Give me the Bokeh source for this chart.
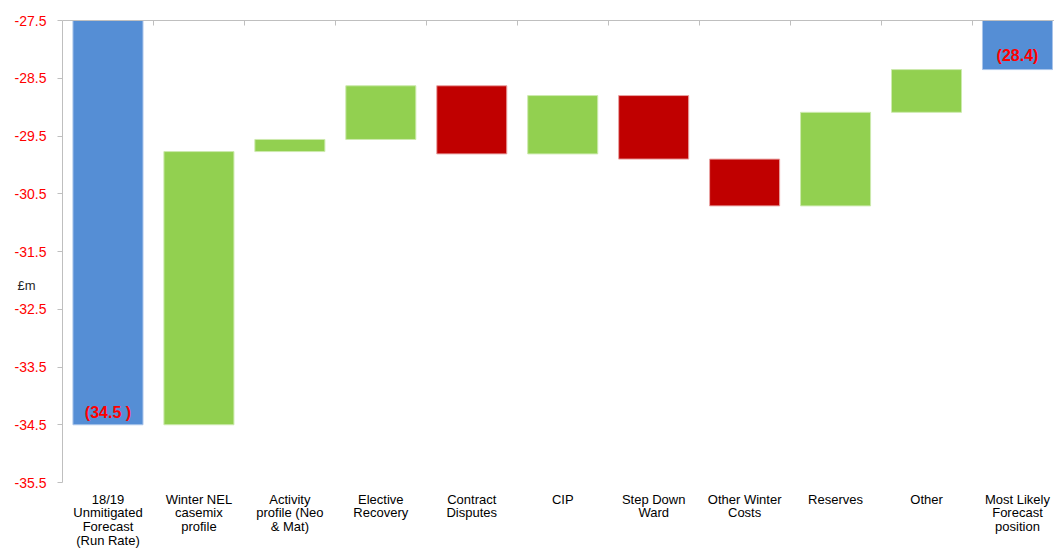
from bokeh.plotting import figure
from bokeh.models import (FixedTicker, LinearAxis, Range1d, ColumnDataSource)
from bokeh.core.properties import value
from bokeh.embed import file_html
from bokeh.resources import INLINE

# ---- data ----
categories = ["18/19\nUnmitigated\nForecast\n(Run Rate)", "Winter NEL\ncasemix\nprofile",
              "Activity\nprofile (Neo\n& Mat)", "Elective\nRecovery", "Contract\nDisputes",
              "CIP", "Step Down\nWard", "Other Winter\nCosts", "Reserves", "Other",
              "Most Likely\nForecast\nposition"]
start_value = -34.5
deltas = [4.73, 0.21, 0.93, -1.18, 1.01, -1.10, -0.81, 1.62, 0.74]
end_value = -28.35
start_label = "(34.5 )"
end_label = "(28.4)"
y_ticks = [-27.5, -28.5, -29.5, -30.5, -31.5, -32.5, -33.5, -34.5, -35.5]
y_unit = "£m"

BLUE = "#558ed5"
GREEN = "#92d050"
RED = "#c00000"
FONT = "Liberation Sans"

# ---- compute waterfall ----
xs, bottoms, tops, fills, lines = [], [], [], [], []
xs.append(1); bottoms.append(start_value); tops.append(0.0); fills.append(BLUE); lines.append("#a9c4ea")
running = start_value
for i, d in enumerate(deltas):
    new = running + d
    xs.append(i + 2)
    bottoms.append(min(running, new)); tops.append(max(running, new))
    if d >= 0:
        fills.append(GREEN); lines.append("#cdeaae")
    else:
        fills.append(RED); lines.append("#e9a3a3")
    running = new
xs.append(len(categories)); bottoms.append(end_value); tops.append(0.0); fills.append(BLUE); lines.append("#a9c4ea")

src = ColumnDataSource(dict(x=xs, bottom=bottoms, top=tops, fill=fills, line=lines))

# ---- layout geometry ----
W, H = 1054, 549
left, top_b = 62, 20
frame_w = W - left
frame_h = H - top_b
px_per_x = 90.95
px_per_y = 57.75
y_max = max(y_ticks)
y_min_axis = min(y_ticks)
x_end = 0.5 + frame_w / px_per_x
y_start = y_max - frame_h / px_per_y   # frame runs to bottom of canvas; labels drawn beneath the axis

p = figure(width=W, height=H, output_backend="svg", toolbar_location=None,
           x_range=Range1d(0.5, x_end), y_range=Range1d(y_start, y_max),
           min_border_left=left, min_border_top=top_b, min_border_bottom=0,
           min_border_right=0, x_axis_location=None, y_axis_location=None)
p.outline_line_color = None
p.grid.visible = False
p.background_fill_color = "white"
p.border_fill_color = "white"

p.vbar(x="x", bottom="bottom", top="top", width=0.77, fill_color="fill",
       line_color="line", line_width=1, source=src)

# left axis
ya = LinearAxis(ticker=FixedTicker(ticks=y_ticks), bounds=(y_min_axis, y_max))
ya.major_label_overrides = {t: f"{t}" for t in y_ticks}
ya.major_label_text_color = "#ff0000"
ya.major_label_text_font = FONT
ya.major_label_text_font_size = "14px"
ya.axis_line_color = "#bfbfbf"
ya.major_tick_line_color = "#bfbfbf"
ya.major_tick_out = 5
ya.major_tick_in = 0
ya.minor_tick_line_color = None
ya.major_label_standoff = 11
ya.axis_label = y_unit
ya.axis_label_text_font = FONT
ya.axis_label_text_font_size = "13px"
ya.axis_label_text_font_style = "normal"
ya.axis_label_text_color = "#262626"
ya.axis_label_standoff = -24
try:
    ya.axis_label_orientation = "horizontal"
except AttributeError:
    pass
p.add_layout(ya, "left")

# top axis line with ticks between categories
ta = LinearAxis(ticker=FixedTicker(ticks=[i + 0.5 for i in range(1, len(categories))]))
ta.axis_line_color = "#bfbfbf"
ta.major_tick_line_color = "#bfbfbf"
ta.major_tick_out = 0
ta.major_tick_in = 5
ta.minor_tick_line_color = None
ta.major_label_text_font_size = "0px"
ta.major_label_text_color = None
p.add_layout(ta, "above")

# category labels under the value axis
cat_x = list(range(1, len(categories) + 1))
p.text(x=cat_x, y=[y_min_axis - 9 / px_per_y] * len(categories), text=categories,
       text_font=value(FONT), text_font_size="13px", text_color="#000000",
       text_align="center", text_baseline="top", text_line_height=0.92)

# value labels (inside bar end)
p.text(x=[1], y=[start_value + 12 / px_per_y], text=[start_label], text_color="#ff0000",
       text_font=value(FONT), text_font_size="16px", text_font_style="bold",
       text_align="center", text_baseline="middle")
p.text(x=[len(categories)], y=[end_value + 14 / px_per_y], text=[end_label], text_color="#ff0000",
       text_font=value(FONT), text_font_size="16px", text_font_style="bold",
       text_align="center", text_baseline="middle")

open("out.html", "w").write(file_html(p, INLINE))
